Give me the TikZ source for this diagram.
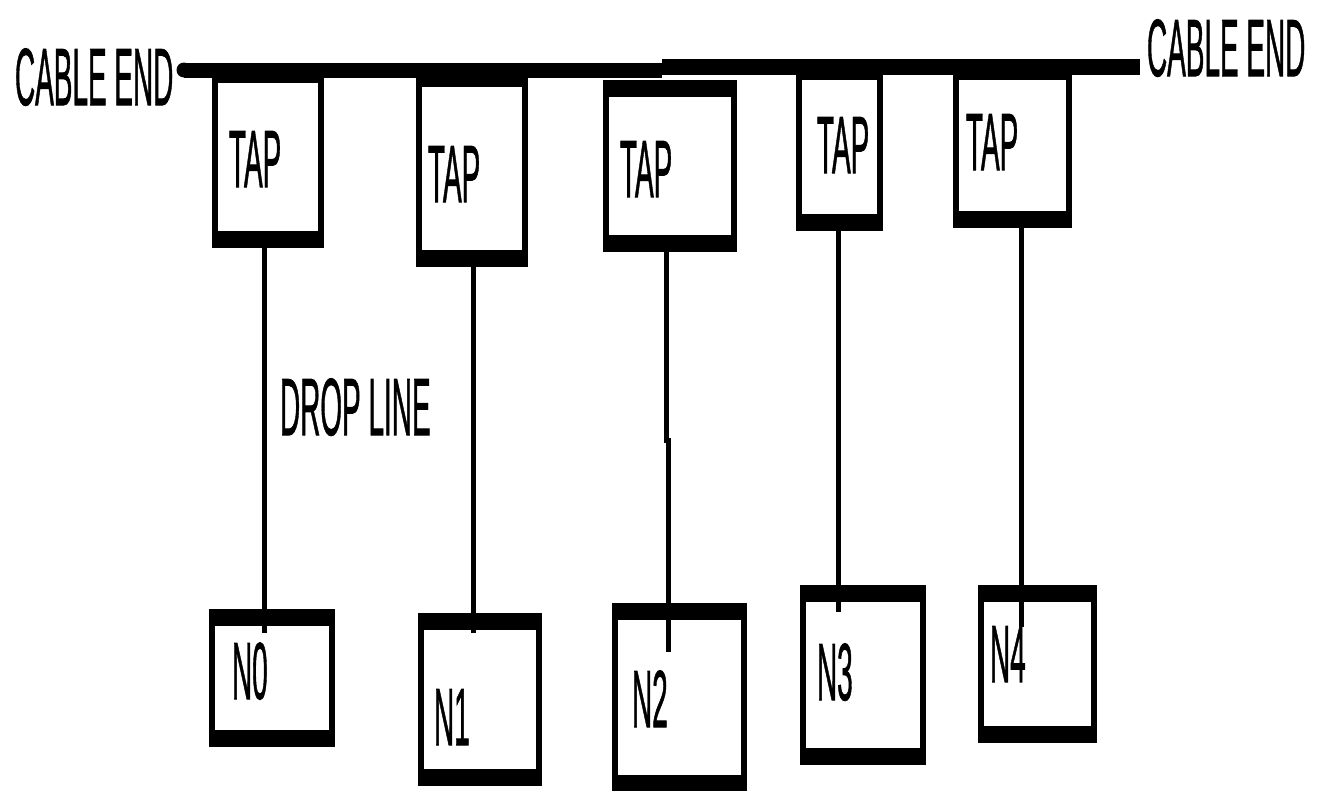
\documentclass[tikz,border=0pt]{standalone}
\usepackage{fontspec}
\setmainfont{Liberation Sans}
\newfontfamily\lblfont[FakeBold=1.3]{Liberation Sans}
\newcommand\sqlbl[1]{\scalebox{0.345}[1]{\lblfont\fontsize{81}{81}\selectfont #1}}
\begin{document}
\begin{tikzpicture}[x=1pt,y=-1pt,
  unitbox/.style={draw=black, fill=white, line width=6pt, inner sep=0pt, outer sep=0pt,
    path picture={
      \fill[black] (path picture bounding box.north west) rectangle ([yshift=-14pt]path picture bounding box.north east);
      \fill[black] (path picture bounding box.south west) rectangle ([yshift=14pt]path picture bounding box.south east);}},
  lbl/.style={inner sep=0pt, outer sep=0pt, anchor=base west, text=black},
  drop/.style={line width=5pt, black},
  cable/.style={line width=15pt, black}]
\useasboundingbox (0,0) rectangle (1320,790);
\fill[white] (0,0) rectangle (1320,790);
% tap boxes
\node[unitbox, minimum width=106pt, minimum height=176pt] (t0) at (268,157) {};
\node[unitbox, minimum width=106pt, minimum height=191pt] (t1) at (472,168.5) {};
\node[unitbox, minimum width=128pt, minimum height=166pt] (t2) at (670,166) {};
\node[unitbox, minimum width=81pt, minimum height=162pt] (t3) at (839.5,147) {};
\node[unitbox, minimum width=113pt, minimum height=159pt] (t4) at (1012.5,145.5) {};
% node boxes
\node[unitbox, minimum width=120pt, minimum height=132pt] (n0) at (272,678) {};
\node[unitbox, minimum width=118pt, minimum height=167pt] (n1) at (480,699.5) {};
\node[unitbox, minimum width=129pt, minimum height=183pt] (n2) at (679.5,697.5) {};
\node[unitbox, minimum width=120pt, minimum height=174pt] (n3) at (863,675) {};
\node[unitbox, minimum width=113pt, minimum height=152pt] (n4) at (1037.5,664) {};
% cable
\coordinate (cL) at (184,70);
\coordinate (cM) at (662,70);
\coordinate (cM2) at (662,67);
\coordinate (cR) at (1140,67);
\draw[cable] (cL) -- (cM);
\fill[black] (cL) circle (7.5pt);
\draw[cable, line width=16pt] (cM2) -- (cR);
% drop lines
\coordinate (e0) at (264,633);
\coordinate (e1) at (473,633);
\coordinate (k2) at (666,440);
\coordinate (e2) at (668,652);
\coordinate (e3) at (838,612);
\coordinate (e4) at (1021,627);
\draw[drop] (t0.south -| e0) -- (e0);
\draw[drop] (t1.south -| e1) -- (e1);
\draw[drop] (t2.south -| k2) -- (k2) -- (k2 -| e2) -- (e2);
\draw[drop] (t3.south -| e3) -- (e3);
\draw[drop] (t4.south -| e4) -- (e4);
% labels
\node[lbl] (cel) at (15,105) {\sqlbl{CABLE END}};
\node[lbl] (cer) at (1147,76) {\sqlbl{CABLE END}};
\node[lbl] (l0) at (229,187) {\sqlbl{TAP}};
\node[lbl] (l1) at (428,202) {\sqlbl{TAP}};
\node[lbl] (l2) at (620,197) {\sqlbl{TAP}};
\node[lbl] (l3) at (817,173) {\sqlbl{TAP}};
\node[lbl] (l4) at (966,170) {\sqlbl{TAP}};
\node[lbl] (dl) at (280,435) {\sqlbl{DROP LINE}};
\node[lbl] (m0) at (232,699) {\sqlbl{N0}};
\node[lbl] (m1) at (434,745) {\sqlbl{N1}};
\node[lbl] (m2) at (632,727) {\sqlbl{N2}};
\node[lbl] (m3) at (817,700) {\sqlbl{N3}};
\node[lbl] (m4) at (990,682) {\sqlbl{N4}};
\end{tikzpicture}
\end{document}
